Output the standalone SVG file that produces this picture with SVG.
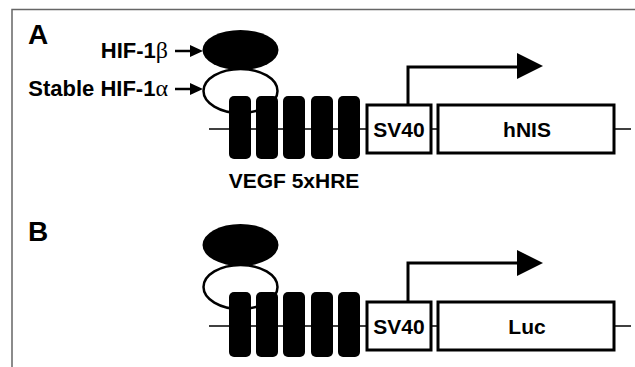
<svg xmlns="http://www.w3.org/2000/svg" width="635" height="367" viewBox="0 0 635 367">
<defs>
<style>
.lbl{font-family:"Liberation Sans",Arial,sans-serif;font-weight:bold;fill:#000}
.greek{font-family:"Liberation Serif","Times New Roman",serif;font-weight:normal;font-size:24px}
.big{font-size:28px}
.t{font-size:22px}
.bt{font-size:21px;text-anchor:middle}
.bar{fill:#000}
.box{fill:#fff;stroke:#000;stroke-width:3}
.dna{stroke:#000;stroke-width:1.5;fill:none}
.prom{stroke:#000;stroke-width:3;fill:none}
.blk{fill:#000}
.open{fill:#fff;stroke:#000;stroke-width:2.5}
.ptr{stroke:#000;stroke-width:2.5;fill:none}
</style>
</defs>
<rect width="635" height="367" fill="#fff"/>
<path d="M12 367 V9.5 H635" fill="none" stroke="#666" stroke-width="1.5"/>

<g id="panelA">
  <text class="lbl big" x="28" y="44">A</text>
  <g id="connectors-A">
    <line class="ptr" x1="175" y1="51" x2="192" y2="51"/>
    <polygon points="190,45 203,51 190,57" fill="#000"/>
    <line class="ptr" x1="175" y1="89" x2="192" y2="89"/>
    <polygon points="190,83 203,89 190,95" fill="#000"/>
    <path class="prom" d="M408 105 V67 H519"/>
    <polygon points="517,53 543,66 517,79" fill="#000"/>
  </g>
  <g id="labels-A">
    <text class="lbl t" x="168" y="58" text-anchor="end">HIF-1<tspan class="greek">β</tspan></text>
    <text class="lbl t" x="168" y="96" text-anchor="end">Stable HIF-1<tspan class="greek">α</tspan></text>
  </g>
  <g id="hif1b-A"><ellipse class="blk" cx="240.5" cy="50" rx="38" ry="20"/></g>
  <g id="hif1a-A"><ellipse class="open" cx="240.5" cy="91" rx="37" ry="22"/></g>
  <g id="hre-A">
    <rect class="bar" x="229" y="96" width="22" height="63" rx="5"/>
    <rect class="bar" x="256" y="96" width="22" height="63" rx="5"/>
    <rect class="bar" x="283" y="96" width="22" height="63" rx="5"/>
    <rect class="bar" x="311" y="96" width="22" height="63" rx="5"/>
    <rect class="bar" x="338" y="96" width="22" height="63" rx="5"/>
    <text class="lbl bt" x="294" y="188">VEGF 5xHRE</text>
  </g>
  <line class="dna" x1="209" y1="129" x2="631" y2="129"/>
  <g id="sv40-A">
    <rect class="box" x="367" y="105" width="64" height="48"/>
    <text class="lbl bt" x="399" y="137">SV40</text>
  </g>
  <g id="hnis-A">
    <rect class="box" x="438" y="105" width="176" height="48"/>
    <text class="lbl bt" x="527" y="137">hNIS</text>
  </g>
</g>

<g id="panelB">
  <text class="lbl big" x="28" y="241">B</text>
  <g id="connectors-B">
    <path class="prom" d="M408 302 V263 H519"/>
    <polygon points="517,250 543,263 517,276" fill="#000"/>
  </g>
  <g id="hif1b-B"><ellipse class="blk" cx="240.5" cy="245" rx="38" ry="21"/></g>
  <g id="hif1a-B"><ellipse class="open" cx="240.5" cy="287" rx="37" ry="22"/></g>
  <g id="hre-B">
    <rect class="bar" x="229" y="292" width="22" height="65" rx="5"/>
    <rect class="bar" x="256" y="292" width="22" height="65" rx="5"/>
    <rect class="bar" x="283" y="292" width="22" height="65" rx="5"/>
    <rect class="bar" x="311" y="292" width="22" height="65" rx="5"/>
    <rect class="bar" x="338" y="292" width="22" height="65" rx="5"/>
  </g>
  <line class="dna" x1="209" y1="326" x2="631" y2="326"/>
  <g id="sv40-B">
    <rect class="box" x="367" y="302" width="64" height="48"/>
    <text class="lbl bt" x="399" y="334">SV40</text>
  </g>
  <g id="luc-B">
    <rect class="box" x="438" y="302" width="176" height="48"/>
    <text class="lbl bt" x="527" y="334">Luc</text>
  </g>
</g>
</svg>
